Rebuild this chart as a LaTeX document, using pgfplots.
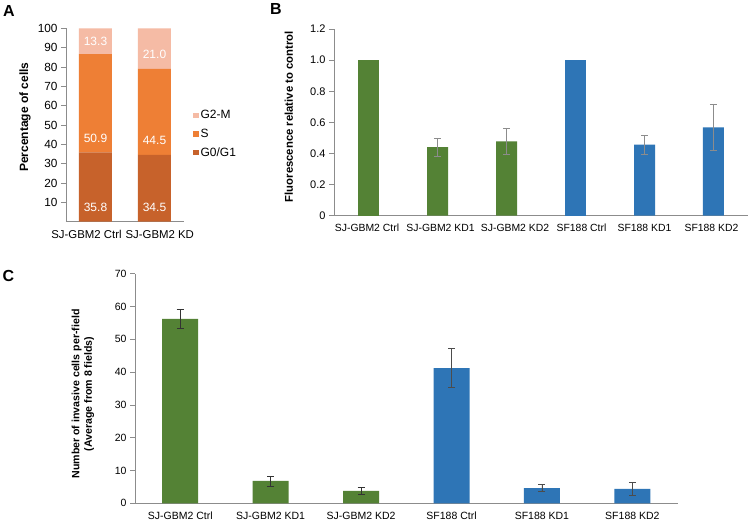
\documentclass[border=0pt]{standalone}
\usepackage{fontspec}
\setmainfont{Liberation Sans}
\usepackage{pgfplots}
\pgfplotsset{compat=1.18}

\definecolor{gzero}{HTML}{C7622B}
\definecolor{sphase}{HTML}{EE7F35}
\definecolor{gtwo}{HTML}{F5BBA5}
\definecolor{kdgreen}{HTML}{548235}
\definecolor{kdblue}{HTML}{2E75B6}
\definecolor{axgray}{HTML}{8C8C8C}

\pgfplotsset{
  panel/.style={
    scale only axis, anchor=south west,
    axis x line*=bottom, axis y line*=left,
    axis line style={-, axgray, line width=0.7pt},
    ytick style={axgray, line width=0.7pt},
    xtick style={draw=none},
    tick align=outside, major tick length=5pt,
    /pgf/number format/assume math mode=true,
    clip=false,
  },
  errs/.style={
    error bars/.cd, y dir=both, y explicit,
    error bar style={line width=0.7pt, #1},
    error mark options={rotate=90, line width=0.7pt, mark size=3.5pt, #1},
  },
}
\tikzset{barlab/.style={text=white, font=\fontsize{12}{14}\selectfont}}
% shift a tick label sideways: left pad / right pad
\newcommand{\padl}[2]{\mbox{}\hspace{#1}#2}
\newcommand{\padr}[2]{#2\hspace{#1}\mbox{}}

\begin{document}
\begin{tikzpicture}[x=1pt,y=1pt]
\useasboundingbox (0,0) rectangle (750,521);
\fill[white] (0,0) rectangle (750,521);

% panel letters
\node[font=\fontsize{16}{18}\selectfont\bfseries] at (9,509.5) {A};
\node[font=\fontsize{16}{18}\selectfont\bfseries] at (276,512) {B};
\node[font=\fontsize{16}{18}\selectfont\bfseries] at (8.5,245.5) {C};

% A: cell cycle stacked bars
\begin{axis}[panel, at={(66pt,299.3pt)}, width=118pt, height=193.4pt,
  ybar stacked, bar width=33pt,
  xmin=-0.5, xmax=1.5, ymin=0, ymax=100,
  xtick={0,1}, xticklabels={{\padr{18pt}{SJ-GBM2 Ctrl}}, {\padl{10.5pt}{SJ-GBM2 KD}}},
  ytick={10,20,...,100},
  ticklabel style={font=\fontsize{11.4}{13}\selectfont},
  yticklabel style={font=\fontsize{11.8}{13}\selectfont},
  ylabel={\bfseries Percentage of cells},
  ylabel style={font=\fontsize{12}{14}\selectfont, at={(axis description cs:-0.347,0.54)}, anchor=center},
  reverse legend,
  legend style={draw=none, fill=none, at={(axis description cs:1.05,0.453)}, anchor=west,
    font=\fontsize{12}{14}\selectfont, row sep=4.5pt},
  legend cell align=left,
  legend image code/.code={\fill[#1] (0pt,-2.6pt) rectangle (5.5pt,2.6pt);},
]
\addplot[fill=gzero, draw=none] coordinates {(0,35.8) (1,34.5)};
\addlegendentry{G0/G1}
\addplot[fill=sphase, draw=none] coordinates {(0,50.9) (1,44.5)};
\addlegendentry{S}
\addplot[fill=gtwo, draw=none] coordinates {(0,13.3) (1,21.0)};
\addlegendentry{G2-M}
\coordinate (a1) at (axis cs:0,7.6);
\coordinate (a2) at (axis cs:1,7.6);
\coordinate (a3) at (axis cs:0,43.3);
\coordinate (a4) at (axis cs:1,42.0);
\coordinate (a5) at (axis cs:0,93.4);
\coordinate (a6) at (axis cs:1,86.6);
\end{axis}
\node[barlab] at (a1) {35.8};
\node[barlab] at (a2) {34.5};
\node[barlab] at (a3) {50.9};
\node[barlab] at (a4) {44.5};
\node[barlab] at (a5) {13.3};
\node[barlab] at (a6) {21.0};

% B: fluorescence
\begin{axis}[panel, at={(334pt,305.3pt)}, width=414pt, height=186.7pt,
  xmin=-0.5, xmax=5.5, ymin=0, ymax=1.2,
  xtick={0,...,5},
  xticklabels={{\padr{3pt}{SJ-GBM2 Ctrl}}, {\padl{6pt}{SJ-GBM2 KD1}}, {\padl{17pt}{SJ-GBM2 KD2}},
    {\padl{12pt}{SF188 Ctrl}}, SF188 KD1, {\padr{4pt}{SF188 KD2}}},
  ytick={0,0.2,0.4,0.6,0.8,1.0,1.2},
  yticklabels={0,0.2,0.4,0.6,0.8,1.0,1.2},
  ticklabel style={font=\fontsize{10.4}{12}\selectfont},
  yticklabel style={font=\fontsize{11}{13}\selectfont},
  ylabel={\bfseries Fluorescence relative to control},
  ylabel style={font=\fontsize{11.3}{13}\selectfont, at={(axis description cs:-0.109,0.53)}, anchor=center},
]
\addplot[ybar, bar width=21pt, fill=kdgreen, draw=none] coordinates {(0,1.0)};
\addplot[ybar, bar width=21pt, fill=kdgreen, draw=none, errs=axgray]
  coordinates {(1,0.441) +- (0,0.057) (2,0.478) +- (0,0.085)};
\addplot[ybar, bar width=21pt, fill=kdblue, draw=none] coordinates {(3,1.0)};
\addplot[ybar, bar width=21pt, fill=kdblue, draw=none, errs=axgray]
  coordinates {(4,0.456) +- (0,0.062) (5,0.568) +- (0,0.148)};
\end{axis}

% C: invasion
\begin{axis}[panel, at={(135pt,17.7pt)}, width=542.6pt, height=229.6pt,
  xmin=-0.5, xmax=5.5, ymin=0, ymax=70,
  xtick={0,...,5},
  xticklabels={SJ-GBM2 Ctrl, SJ-GBM2 KD1, SJ-GBM2 KD2, SF188 Ctrl, SF188 KD1, SF188 KD2},
  ytick={0,10,...,70},
  ticklabel style={font=\fontsize{10.5}{12}\selectfont},
  ylabel={\bfseries Number of invasive cells per-field\\\bfseries(Average from 8 fields)},
  ylabel style={font=\fontsize{10.6}{12.5}\selectfont, align=center, at={(axis description cs:-0.096,0.476)}, anchor=center},
]
\addplot[ybar, bar width=36pt, fill=kdgreen, draw=none, errs=black!80]
  coordinates {(0,56.2) +- (0,2.8) (1,6.8) +- (0,1.5) (2,3.8) +- (0,1.0)};
\addplot[ybar, bar width=36pt, fill=kdblue, draw=none, errs=black!70]
  coordinates {(3,41.2) +- (0,6.0) (4,4.6) +- (0,1.1) (5,4.4) +- (0,1.9)};
\end{axis}
\end{tikzpicture}
\end{document}
